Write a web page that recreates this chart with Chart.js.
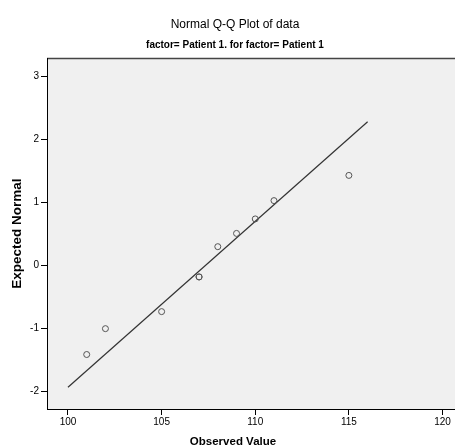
<!DOCTYPE html>
<html>
<head>
<meta charset="utf-8">
<script src="https://cdn.jsdelivr.net/npm/chart.js@4"></script>
<style>
  html, body { margin: 0; padding: 0; background: #fff; overflow: hidden; }
  #wrap { width: 470px; height: 448px; }
</style>
</head>
<body>
<div id="wrap"><canvas id="qq" width="470" height="448"></canvas></div>
<script>
// observed values and their expected normal scores
const observed = [101, 102, 105, 107, 107, 108, 109, 110, 111, 115];
const expected = [-1.41, -1.0, -0.73, -0.18, -0.18, 0.3, 0.51, 0.74, 1.03, 1.43];

// reference line end points
const lineX = [100, 116];
const lineY = [-1.93, 2.28];

const xTicks = [100, 105, 110, 115, 120];
const yTicks = [-2, -1, 0, 1, 2, 3];

Chart.defaults.color = '#000';
Chart.defaults.font.family = "'Liberation Sans', Arial, sans-serif";

const plotBg = {
    id: 'plotBg',
    beforeDraw(chart) {
        const a = chart.chartArea;
        const ctx = chart.ctx;
        ctx.save();
        ctx.fillStyle = '#f0f0f0';
        ctx.fillRect(a.left, a.top, chart.width - a.left, a.bottom - a.top);
        ctx.strokeStyle = '#444';
        ctx.lineWidth = 1.5;
        ctx.beginPath();
        ctx.moveTo(a.left, a.top);
        ctx.lineTo(chart.width, a.top);
        ctx.stroke();
        ctx.restore();
    },
    afterDraw(chart) {
        // x axis title, centred like the original (which was wider)
        const ctx = chart.ctx;
        ctx.save();
        ctx.fillStyle = '#000';
        ctx.font = "bold 11.5px 'Liberation Sans', Arial, sans-serif";
        ctx.textAlign = 'center';
        ctx.textBaseline = 'middle';
        ctx.fillText('Observed Value', 233, 442);
        ctx.restore();
    }
};

new Chart(document.getElementById('qq'), {
    type: 'scatter',
    data: {
        datasets: [
            {
                label: 'data',
                data: observed.map((v, i) => ({ x: v, y: expected[i] })),
                pointStyle: 'circle',
                pointRadius: 3,
                backgroundColor: 'rgba(0,0,0,0)',
                borderColor: '#555',
                borderWidth: 1
            },
            {
                type: 'line',
                label: 'line',
                data: lineX.map((v, i) => ({ x: v, y: lineY[i] })),
                borderColor: '#333',
                borderWidth: 1.2,
                pointRadius: 0,
                fill: false
            }
        ]
    },
    options: {
        responsive: false,
        animation: false,
        layout: { padding: 0 },
        plugins: {
            legend: { display: false },
            tooltip: { enabled: false },
            title: {
                display: true,
                text: 'Normal Q-Q Plot of data',
                font: { size: 12, weight: 'normal' },
                padding: { top: 17, bottom: 8 }
            },
            subtitle: {
                display: true,
                text: 'factor= Patient 1. for factor= Patient 1',
                font: { size: 10, weight: 'bold' },
                padding: { top: 0, bottom: 7 }
            }
        },
        scales: {
            x: {
                type: 'linear',
                min: 98.88,
                max: 121.2,
                afterBuildTicks: s => { s.ticks = xTicks.map(v => ({ value: v })); },
                afterFit: s => { s.height = 39; },
                grid: { drawOnChartArea: false, tickLength: 6, color: '#000' },
                border: { color: '#000', width: 1 },
                ticks: { font: { size: 10 }, padding: 1, maxRotation: 0 }
            },
            y: {
                min: -2.274,
                max: 3.285,
                afterBuildTicks: s => { s.ticks = yTicks.map(v => ({ value: v })); },
                afterFit: s => { s.width = 47; },
                grid: { drawOnChartArea: false, tickLength: 6, color: '#000' },
                border: { color: '#000', width: 1 },
                ticks: { font: { size: 10 }, padding: 2 },
                title: {
                    display: true,
                    text: 'Expected Normal',
                    font: { size: 13.5, weight: 'bold' },
                    padding: { top: 9, bottom: 0 }
                }
            }
        }
    },
    plugins: [plotBg]
});
</script>
</body>
</html>
